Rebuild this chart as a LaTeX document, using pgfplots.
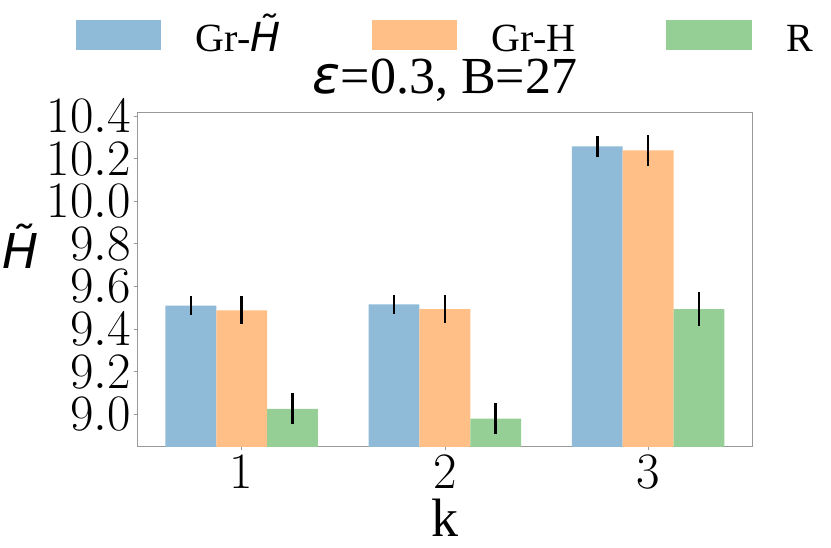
\RequirePackage{fix-cm}
\documentclass[border=0pt]{standalone}
\usepackage[no-math]{fontspec}
\setmainfont{Liberation Serif}
\newfontfamily\dejavu{DejaVu Sans}
\usepackage{pgfplots}
\pgfplotsset{compat=1.18}
\definecolor{cB}{RGB}{143,187,217}
\definecolor{cO}{RGB}{255,191,134}
\definecolor{cG}{RGB}{149,207,149}
\definecolor{spine}{RGB}{153,153,153}
\newcommand\tickfont{\fontsize{51}{60}\selectfont}
\begin{document}
\begin{tikzpicture}
\useasboundingbox (0,0) rectangle (831pt,548pt);
\begin{axis}[
  at={(137.5pt,101pt)}, anchor=south west,
  scale only axis, width=614.8pt, height=334.7pt,
  xmin=0.4875, xmax=3.5125, ymin=8.846, ymax=10.418,
  xtick={1,2,3},
  ytick={9,9.2,9.4,9.6,9.8,10,10.2,10.4},
  yticklabel style={/pgf/number format/fixed, /pgf/number format/fixed zerofill, /pgf/number format/precision=1},
  xtick pos=bottom, ytick pos=left,
  tick align=outside, major tick length=3.5pt,
  tick style={spine, line width=0.8pt},
  axis line style={spine, line width=1pt},
  every tick label/.append style={font=\tickfont, inner sep=0pt},
  xticklabel style={yshift=-5pt},
  yticklabel style={xshift=-3pt},
  title={{\dejavu\itshape ε}=0.3, B=27},
  title style={font=\fontsize{52}{60}\selectfont, at={(axis description cs:0.5,1)}, anchor=base, yshift=12.3pt, inner sep=0pt},
  xlabel={k},
  xlabel style={font=\fontsize{54}{60}\selectfont, at={(axis description cs:0.5,0)}, anchor=base, yshift=-89.7pt, inner sep=0pt},
  ylabel={\dejavu\itshape H̃},
  ylabel style={font=\fontsize{48}{56}\selectfont, at={(axis description cs:-0.191,0.534)}, anchor=base, rotate=-90, inner sep=0pt},
  legend columns=3,
  legend style={at={(axis description cs:-0.1005,1.178)}, anchor=south west, draw=none, fill=none, inner sep=0pt,
    font=\fontsize{40}{48}\selectfont, nodes={inner sep=0pt, anchor=base west},
    /tikz/every odd column/.append style={column sep=34.5pt},
    /tikz/every even column/.append style={column sep=91pt}},
  errstyle/.style={forget plot, draw=none, no markers,
    error bars/.cd, y dir=both, y explicit, error mark=none,
    error bar style={draw=black, line width=2.5pt, solid}},
]
\addplot[ybar, bar width=0.25, bar shift=-0.25, fill=cB, draw=none,
  legend image code/.code={\fill[cB] (0pt,0.7pt) rectangle (85.5pt,30.7pt);}]
  coordinates {(1,9.510) (2,9.516) (3,10.258)};
\addlegendentry{Gr-{\dejavu\itshape H̃}}
\addplot[ybar, bar width=0.25, bar shift=0, fill=cO, draw=none,
  legend image code/.code={\fill[cO] (0pt,0.7pt) rectangle (85.5pt,30.7pt);}]
  coordinates {(1,9.488) (2,9.494) (3,10.239)};
\addlegendentry{Gr-H}
\addplot[ybar, bar width=0.25, bar shift=0.25, fill=cG, draw=none,
  legend image code/.code={\fill[cG] (0pt,0.7pt) rectangle (85.5pt,30.7pt);}]
  coordinates {(1,9.025) (2,8.979) (3,9.494)};
\addlegendentry{R}
% error bars at the bar centres
\addplot[errstyle] coordinates {(0.75,9.510) +- (0,0.043) (1.75,9.516) +- (0,0.045) (2.75,10.258) +- (0,0.048)};
\addplot[errstyle] coordinates {(1,9.488) +- (0,0.065) (2,9.494) +- (0,0.066) (3,10.239) +- (0,0.072)};
\addplot[errstyle] coordinates {(1.25,9.025) +- (0,0.073) (2.25,8.979) +- (0,0.073) (3.25,9.494) +- (0,0.078)};
\end{axis}
\end{tikzpicture}
\end{document}
